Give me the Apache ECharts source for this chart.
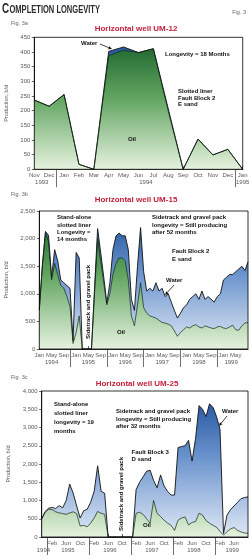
<!DOCTYPE html>
<html><head><meta charset="utf-8">
<script src="https://cdn.jsdelivr.net/npm/echarts@6/dist/echarts.min.js"></script>
<style>html,body{margin:0;padding:0;background:#fff}#c{width:250px;height:559px}</style>
</head><body><div id="c"></div><script>
// ---------- data ----------
const MONTHS = ['Jan','Feb','Mar','Apr','May','Jun','Jul','Aug','Sep','Oct','Nov','Dec'];
function monthCats(year, month0, n){const o=[];for(let i=0;i<n;i++){const t=month0+i;o.push(MONTHS[t%12]+' '+(year+Math.floor(t/12)));}return o;}

// Fig 3a  UM-12 (Nov 1993 - Jan 1995), b/d
const cats12 = monthCats(1993, 10, 15);
const oil12   = [236,215,255,17,0,388,406,398,411,198,0,103,49,68,0];
const total12 = [236,215,255,17,0,402,417,398,411,206,0,103,49,68,0];
const yTicks12 = [0,50,100,150,200,250,300,350,400,450];
const monthLabels12 = MONTHS;

// Fig 3b  UM-15 (Jan 1994 - Sep 1999), b/d
const cats15 = monthCats(1994, 0, 69);
const total15 = [720,1520,2130,2060,1300,1800,1600,1250,1200,1150,1100,150,1750,1650,0,0,0,0,1100,2180,
  1750,1300,830,1200,1800,2050,2100,2050,2050,1800,900,700,1500,2200,1400,1050,1100,1050,1200,1050,
  1100,950,1000,850,700,560,650,750,800,900,950,1000,900,1050,900,950,900,850,950,1000,
  1250,1300,1350,1350,1400,1450,1500,1420,1580];
const oil15 = [700,1500,2100,1950,1250,1550,1350,1150,1100,950,770,100,300,600,0,0,0,0,1000,2000,
  1600,1200,800,1000,1350,1550,1650,1650,1600,1250,600,420,800,1200,750,650,600,580,560,520,
  480,470,450,420,330,230,300,350,400,380,420,440,400,380,420,400,380,370,400,410,
  380,370,400,430,350,340,420,470,480];
const yTicks15 = [0,500,1000,1500,2000,2500];
const monthLabels15 = ['Jan','May','Sep'];

// Fig 3c  UM-25 (Nov 1994 - Oct 1999), b/d
const cats25 = monthCats(1994, 10, 60);
const total25 = [500,700,790,810,780,860,800,1000,1450,1200,850,520,720,760,950,1250,1950,1250,1200,0,
  0,0,0,0,0,0,0,1300,1500,1650,1800,1830,1550,1350,1700,1400,1250,1150,1150,2450,
  2480,2500,2650,2080,2700,3600,3500,3300,3650,3550,3300,2950,100,600,750,850,950,1050,1080,1100];
const oil25 = [490,680,760,750,690,660,640,620,660,690,640,300,320,280,380,520,700,650,620,0,
  0,0,0,0,0,0,0,650,680,620,500,380,1000,650,560,460,380,320,180,460,
  520,550,330,400,420,650,600,450,380,320,270,150,50,150,220,260,180,140,110,100];
const yTicks25 = [0,500,1000,1500,2000,2500,3000,3500,4000];
const monthLabels25 = ['Feb','Jun','Oct'];

// ---------- styling ----------
const FF = '"Liberation Sans", Arial, sans-serif';
const GRAY = '#5a5a5a';
const panels = [
  {cats:cats12, oil:oil12, total:total12, yt:yTicks12, ml:monthLabels12, grid:{left:34.3, top:37.3, width:208.4, height:132}, lastLabel:true, sepOff:-0.5, yearShift:0, nameGap:21},
  {cats:cats15, oil:oil15, total:total15, yt:yTicks15, ml:monthLabels15, grid:{left:39.3, top:211, width:208.7, height:138}, lastLabel:false, sepOff:-2, yearShift:-1.5, nameGap:25},
  {cats:cats25, oil:oil25, total:total25, yt:yTicks25, ml:monthLabels25, grid:{left:41.7, top:391, width:206.3, height:146}, lastLabel:false, sepOff:-0.5, yearShift:0, nameGap:25}
];

function grad(top, bottom, stops){
  return {type:'linear', x:0, y:top, x2:0, y2:bottom, global:true,
    colorStops: stops.map(s=>({offset:s[0], color:s[1]}))};
}
const greenStops = [[0,'#175f2b'],[0.45,'#5fa35e'],[1,'#e6f2df']];
const blueStops  = [[0,'#1b4c98'],[0.45,'#6a93cd'],[1,'#e0e9f6']];

const grids=[], xAxes=[], yAxes=[], series=[];
panels.forEach((p, gi)=>{
  grids.push(Object.assign({show:true, borderColor:'#000', borderWidth:0.8, backgroundColor:'transparent', z:3, outerBoundsMode:'none', containLabel:false}, p.grid));
  const nC = p.cats.length;
  const showM = (i, v) => p.ml.indexOf(String(v).slice(0,3)) >= 0 && (p.lastLabel || i < nC-1);
  xAxes.push({type:'category', gridIndex:gi, data:p.cats, boundaryGap:false,
    axisLine:{lineStyle:{color:'#000', width:0.8}},
    axisTick:{inside:true, length:3, interval:showM, lineStyle:{color:'#000', width:0.6}},
    axisLabel:{interval:showM, formatter:v=>v.slice(0,3), fontSize:6, color:GRAY, margin:3, fontFamily:FF},
    splitLine:{show:false}});
  // secondary axis at half-month resolution: year separators + year labels
  const n = p.cats.length, m = 2*n-1;
  const yd = new Array(m).fill('');
  const groups = {};
  p.cats.forEach((c,i)=>{const y=c.split(' ')[1]; (groups[y]=groups[y]||[]).push(i);});
  Object.keys(groups).forEach(y=>{const g=groups[y]; let mid=(g[0]+g[g.length-1])/2 + (g.length>6 ? p.yearShift : 0);
    let k=Math.round(2*mid); k=Math.max(0,Math.min(m-1,k)); yd[k]=y;});
  const seps = new Set();
  p.cats.forEach((c,i)=>{ if(c.startsWith('Jan') && i>0){ const k=Math.round(2*(i+p.sepOff)); if(k>0 && k<m-1) seps.add(k);} });
  xAxes.push({type:'category', gridIndex:gi, data:yd, boundaryGap:false, position:'bottom',
    axisLine:{show:false},
    axisTick:{show:true, inside:false, length:18, interval:(i)=>seps.has(i), lineStyle:{color:'#333', width:0.7}},
    axisLabel:{interval:(i,v)=>v!=='', fontSize:6, color:GRAY, margin:10.5, fontFamily:FF},
    splitLine:{show:false}});
  yAxes.push({type:'value', gridIndex:gi, min:p.yt[0], max:p.yt[p.yt.length-1], interval:p.yt[1]-p.yt[0],
    name:'Production, b/d', nameLocation:'middle', nameGap:p.nameGap,
    nameTextStyle:{fontSize:5.5, color:GRAY, fontFamily:FF},
    axisLine:{show:true, lineStyle:{color:'#000', width:0.8}},
    axisTick:{show:true, length:2.5, lineStyle:{color:'#000', width:0.6}},
    axisLabel:{fontSize:6, color:GRAY, margin:4, fontFamily:FF, formatter:v=>v.toLocaleString('en-US')},
    splitLine:{show:false}});
  const top=p.grid.top, bot=p.grid.top+p.grid.height;
  series.push({type:'line', xAxisIndex:2*gi, yAxisIndex:gi, data:p.total, symbol:'none', z:2,
    lineStyle:{color:'#111', width:0.9}, areaStyle:{color:grad(top,bot,blueStops), opacity:1}});
  series.push({type:'line', xAxisIndex:2*gi, yAxisIndex:gi, data:p.oil, symbol:'none', z:2,
    lineStyle:{color:'#0f2a12', width:0.7}, areaStyle:{color:grad(top,bot,greenStops), opacity:1}});
});

// ---------- annotations ----------
const G = [];
function txt(x,y,text,o){o=o||{};
  G.push({type:'text', x:x, y:y, rotation:o.rot||0, z:100, style:{text:text, fontSize:o.fs||6, fontWeight:o.fw||'bold',
    fill:o.fill||'#111', fontFamily:o.ff||FF, align:o.align||'left', verticalAlign:o.va||'middle', lineHeight:o.lh||7}});}
function arrow(x1,y1,x2,y2){
  const a=Math.atan2(y2-y1,x2-x1), L=3.5, W=1.6;
  const bx=x2-L*Math.cos(a), by=y2-L*Math.sin(a);
  G.push({type:'line', z:100, shape:{x1:x1,y1:y1,x2:bx,y2:by}, style:{stroke:'#111', lineWidth:0.8}});
  G.push({type:'polygon', z:100, shape:{points:[[x2,y2],[bx+W*Math.sin(a),by-W*Math.cos(a)],[bx-W*Math.sin(a),by+W*Math.cos(a)]]}, style:{fill:'#111'}});
}
// header
(function(){
  const ctx=document.createElement('canvas').getContext('2d');
  ctx.font='bold 15px "Liberation Sans"'; const w1=ctx.measureText('C').width;
  ctx.font='bold 11.5px "Liberation Sans"'; const w2=ctx.measureText('OMPLETION LONGEVITY').width;
  const s = 98/(w1+w2+0.5);
  G.push({type:'group', x:2, y:0, scaleX:s, z:100, children:[
    {type:'text', x:0, y:9, style:{text:'C', fontSize:15, fontWeight:'bold', fontFamily:FF, fill:'#2b2b2b', align:'left', verticalAlign:'middle'}},
    {type:'text', x:w1+0.5, y:10.3, style:{text:'OMPLETION LONGEVITY', fontSize:11.5, fontWeight:'bold', fontFamily:FF, fill:'#2b2b2b', align:'left', verticalAlign:'middle'}}
  ]});
})();
txt(246,12,'Fig. 3',{fs:5.5, fw:'normal', fill:'#666', align:'right'});
txt(11,23,'Fig. 3a',{fs:5.5, fw:'normal', fill:'#666'});
txt(11,194,'Fig. 3b',{fs:5.5, fw:'normal', fill:'#666'});
txt(11,377,'Fig. 3c',{fs:5.5, fw:'normal', fill:'#666'});
const RED='#c4203c';
txt(136,29,'Horizontal well UM-12',{fs:8, fill:RED, align:'center'});
txt(136,200,'Horizontal well UM-15',{fs:8, fill:RED, align:'center'});
txt(137,383.5,'Horizontal well UM-25',{fs:8, fill:RED, align:'center'});
// panel a
txt(81,43.5,'Water'); arrow(100,44,112,49);
txt(165,54.5,'Longevity = 18 Months');
txt(178,88,'Slotted liner\nFault Block 2\nE sand',{va:'top', lh:6.7});
txt(128,139,'Oil');
// panel b
txt(57,214,'Stand-alone\nslotted liner\nLongevity =\n14 months',{va:'top', lh:7.3});
txt(88,302,'Sidetrack and gravel pack',{rot:Math.PI/2, align:'center'});
txt(152,213.5,'Sidetrack and gravel pack\nlongevity = Still producing\nafter 52 months',{va:'top', lh:7.7});
txt(172,248,'Fault Block 2\nE sand',{va:'top', lh:7.6});
txt(166,280.5,'Water'); arrow(174,285,165,295);
txt(117,332.5,'Oil');
// panel c
txt(54,399.5,'Stand-alone\nslotted liner\nlongevity = 19\nmonths',{va:'top', lh:9});
txt(121,494,'Sidetrack and gravel pack',{rot:Math.PI/2, align:'center'});
txt(116,408,'Sidetrack and gravel pack\nlongevity = Still producing\nafter 32 months',{va:'top', lh:7.5});
txt(131.5,448.5,'Fault Block 3\nD sand',{va:'top', lh:7.5});
txt(222,411.5,'Water'); arrow(227,416,219,426);
txt(143,525,'Oil');

const chart = echarts.init(document.getElementById('c'), null, {renderer:'canvas', width:250, height:559});
chart.setOption({animation:false, backgroundColor:'#fff', grid:grids, xAxis:xAxes, yAxis:yAxes, series:series, graphic:G});
</script></body></html>
